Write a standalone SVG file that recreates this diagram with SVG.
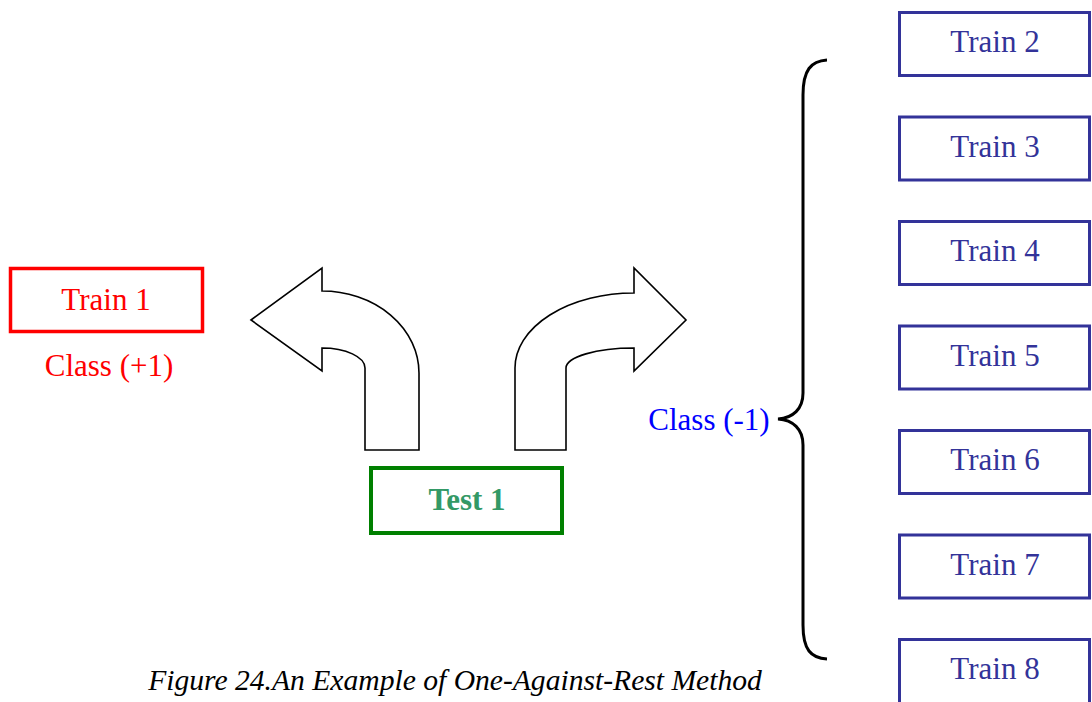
<svg xmlns="http://www.w3.org/2000/svg" width="1092" height="702" viewBox="0 0 1092 702">
<style>
text{font-family:"Liberation Serif","Times New Roman",serif;font-size:31px;text-anchor:middle}
.tr rect{fill:#fff;stroke:#333399;stroke-width:3}
.tr text{fill:#333399}
.arrow{fill:#fff;stroke:#000;stroke-width:1.6;stroke-linejoin:miter}
.cap{font-size:29.6px;font-style:italic;fill:#000}
</style>
<rect width="1092" height="702" fill="#fff"/>
<g id="train1"><rect x="10.5" y="268.5" width="192" height="63" fill="#fff" stroke="#ff0000" stroke-width="3.5"/><text x="106" y="310" fill="#ff0000">Train 1</text></g>
<text id="class-pos" x="109" y="376" fill="#ff0000">Class (+1)</text>
<g id="test1"><rect x="371" y="468" width="191" height="65" fill="#fff" stroke="#008000" stroke-width="4"/><text x="467" y="510" fill="#339966" font-weight="bold">Test 1</text></g>
<g id="connectors">
<path class="arrow" d="M251 320 L322 268 L322 291 A97 82 0 0 1 419 373 L419 450 L365 450 L365 368 A43 20 0 0 0 322 348 L322 371 Z"/>
<path class="arrow" d="M515 450 L515 368 A119 75 0 0 1 634 293 L634 268 L686 320 L634 371 L634 348 A68 20 0 0 0 566 368 L566 450 Z"/>
<path d="M827 60 C811 61 803 70 803 95 L803 393 C803 409 793 418 778 419 C793 420 803 429 803 445 L803 625 C803 650 811 658 827 659" fill="none" stroke="#000" stroke-width="3"/>
</g>
<text id="class-neg" x="709" y="430" fill="#0000ff">Class (-1)</text>
<g id="train2" class="tr"><rect x="899.5" y="12.5" width="190" height="63"/><text x="995" y="52">Train 2</text></g>
<g id="train3" class="tr"><rect x="899.5" y="117" width="190" height="63"/><text x="995" y="156.5">Train 3</text></g>
<g id="train4" class="tr"><rect x="899.5" y="221.5" width="190" height="63"/><text x="995" y="261">Train 4</text></g>
<g id="train5" class="tr"><rect x="899.5" y="326" width="190" height="63"/><text x="995" y="365.5">Train 5</text></g>
<g id="train6" class="tr"><rect x="899.5" y="430.5" width="190" height="63"/><text x="995" y="470">Train 6</text></g>
<g id="train7" class="tr"><rect x="899.5" y="535" width="190" height="63"/><text x="995" y="574.5">Train 7</text></g>
<g id="train8" class="tr"><rect x="899.5" y="639.5" width="190" height="70"/><text x="995" y="679">Train 8</text></g>
<text id="caption" class="cap" x="455" y="690">Figure 24.An Example of One-Against-Rest Method</text>
</svg>
